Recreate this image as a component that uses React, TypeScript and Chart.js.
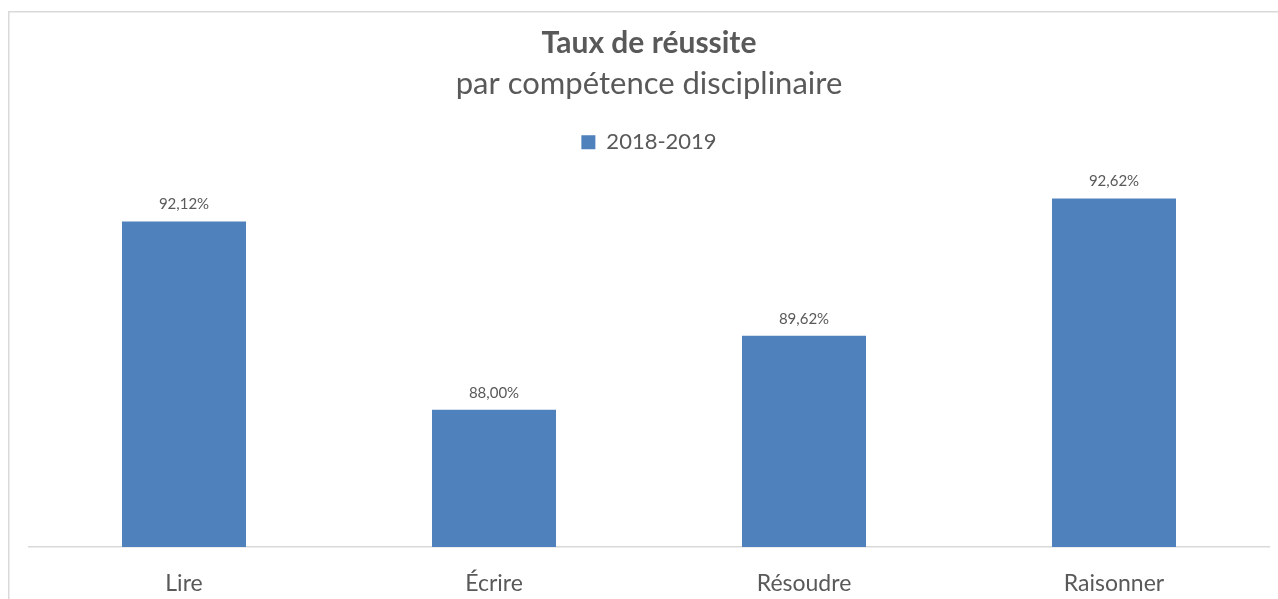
import React, { useEffect, useRef } from "react";
import { Chart, registerables } from "chart.js";

Chart.register(...registerables);

const categories = ["Lire", "Écrire", "Résoudre", "Raisonner"];
const seriesLabel = "2018-2019";
const seriesValues = [92.12, 88.0, 89.62, 92.62];
const titleText = "Taux de réussite";
const subtitleText = "par compétence disciplinaire";

const FONT = "Lato, 'Open Sans', sans-serif";
const GREY = "#595959";
const BLUE = "#4f81bd";

const frame = {
  id: "frame",
  beforeDraw(chart: any) {
    const { ctx, width, height } = chart;
    ctx.save();
    ctx.strokeStyle = "#d9d9d9";
    ctx.lineWidth = 1.5;
    ctx.beginPath();
    ctx.moveTo(8.75, height + 10);
    ctx.lineTo(8.75, 11.75);
    ctx.lineTo(width + 10, 11.75);
    ctx.stroke();
    ctx.restore();
  },
};

const legendGap = {
  id: "legendGap",
  beforeInit(chart: any) {
    const legend = chart.legend;
    if (!legend) return;
    const origFit = legend.fit;
    legend.fit = function () {
      origFit.call(this);
      this.height += 18;
    };
  },
};

const dataLabels = {
  id: "dataLabels",
  afterDatasetsDraw(chart: any) {
    const { ctx } = chart;
    const meta = chart.getDatasetMeta(0);
    ctx.save();
    ctx.fillStyle = GREY;
    ctx.font = `15px ${FONT}`;
    ctx.textAlign = "center";
    ctx.textBaseline = "middle";
    meta.data.forEach((el: any, i: number) => {
      const v = chart.data.datasets[0].data[i] as number;
      const txt = v.toFixed(2).replace(".", ",") + "%";
      ctx.fillText(txt, el.x, el.y - 17);
    });
    ctx.restore();
  },
};

export default function App() {
  const ref = useRef<HTMLCanvasElement | null>(null);
  useEffect(() => {
    document.body.style.margin = "0";
    document.body.style.overflow = "hidden";
    const chart = new Chart(ref.current!, {
      type: "bar",
      data: {
        labels: categories,
        datasets: [
          {
            label: seriesLabel,
            data: seriesValues,
            backgroundColor: BLUE,
            borderWidth: 0,
            barPercentage: 0.4,
            categoryPercentage: 1,
          },
        ],
      },
      options: {
        animation: false,
        responsive: false,
        maintainAspectRatio: false,
        layout: { padding: { left: 29, right: 9, top: 0, bottom: 0 } },
        plugins: {
          title: {
            display: true,
            text: titleText,
            color: GREY,
            font: { family: FONT, size: 30, weight: "bold", lineHeight: 1.2 },
            padding: { top: 25, bottom: 4 },
          },
          subtitle: {
            display: true,
            text: subtitleText,
            color: GREY,
            font: { family: FONT, size: 31, weight: "normal", lineHeight: 1.2 },
            padding: { top: 0, bottom: 11 },
          },
          legend: {
            display: true,
            position: "top",
            labels: {
              color: GREY,
              font: { family: FONT, size: 22 },
              boxWidth: 14,
              boxHeight: 14,
              padding: 18,
            },
          },
          tooltip: { enabled: false },
        },
        scales: {
          x: {
            grid: { display: false, drawTicks: false },
            border: { display: true, color: "#d9d9d9", width: 1.5 },
            ticks: {
              color: GREY,
              font: { family: FONT, size: 23 },
              padding: 23,
            },
            afterFit(scale: any) {
              scale.height = 52;
            },
          },
          y: {
            display: false,
            min: 85,
            max: 93,
          },
        },
      },
      plugins: [frame, legendGap, dataLabels],
    });
    return () => chart.destroy();
  }, []);
  return (
    <div style={{ width: 1278, height: 599, background: "#ffffff" }}>
      <canvas ref={ref} width={1278} height={599} style={{ display: "block" }} />
    </div>
  );
}
